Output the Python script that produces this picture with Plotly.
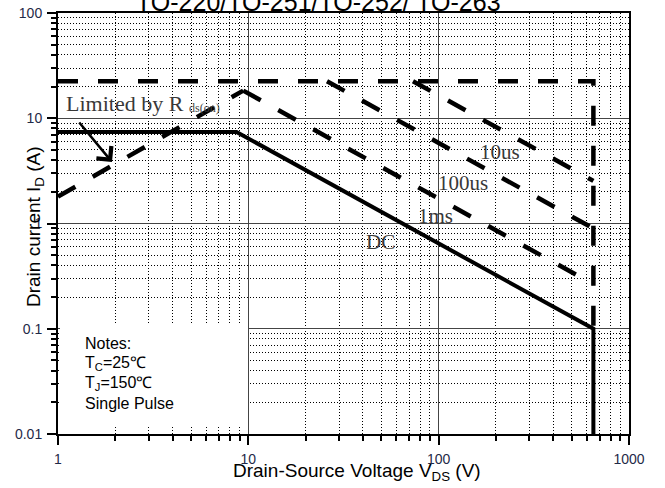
import plotly.graph_objects as go

# ---- data ----
dc_v = [1, 8.67, 650, 650]
dc_i = [7.4, 7.4, 0.1, 0.01]
limit_v = [1, 650, 650]
limit_i = [22.5, 22.5, 0.1]
rds_v = [1, 9.4]
rds_i = [1.8, 18.3]
ms1_v = [9.4, 650]
ms1_i = [18.3, 0.265]
us100_v = [25.9, 650]
us100_i = [22.5, 0.897]
us10_v = [73.3, 650]
us10_i = [22.5, 2.54]

x_tickvals = [1, 10, 100, 1000]
x_ticktext = ["1", "10", "100", "1000"]
y_tickvals = [0.01, 0.1, 1, 10, 100]
y_ticktext = ["0.01", "0.1", "1", "10", "100"]

W, H = 665, 488
OFF = 0  # body margin removed by post_script
# plot area in screenshot pixels: x 58..629, y 13..434
PX0, PX1, PY0, PY1 = 58, 629, 13, 434
PW, PH = PX1 - PX0, PY1 - PY0
ML, MT = PX0 - OFF, PY0 - OFF
MR, MB = W - ML - PW, H - MT - PH


def px(xp):
    return (xp - PX0) / PW


def py(yp):
    return (PY1 - yp) / PH


fig = go.Figure()
dash = "20px,20px"
for xs, ys in [(limit_v, limit_i), (rds_v, rds_i), (ms1_v, ms1_i),
               (us100_v, us100_i), (us10_v, us10_i)]:
    fig.add_trace(go.Scatter(x=xs, y=ys, mode="lines",
                             line=dict(color="black", width=4.5, dash=dash),
                             hoverinfo="skip", showlegend=False, cliponaxis=False))
fig.add_trace(go.Scatter(x=dc_v, y=dc_i, mode="lines",
                         line=dict(color="black", width=4),
                         hoverinfo="skip", showlegend=False))

tickfont = dict(family="Liberation Sans, Arial", size=14, color="#1f2a48")
common = dict(type="log", showline=True, linecolor="black", linewidth=2, mirror=True,
              ticks="outside", ticklen=9, tickwidth=1.5, tickcolor="black",
              showgrid=True, gridcolor="#444", gridwidth=1, zeroline=False,
              tickfont=tickfont, ticklabelstandoff=2, automargin=False,
              ticklabeloverflow="allow",
              minor=dict(dtick="D1", ticks="outside", ticklen=5, tickcolor="black",
                         showgrid=True, gridcolor="black", gridwidth=1, griddash="1px,2px"))
fig.update_xaxes(range=[0, 3], tickvals=x_tickvals, ticktext=x_ticktext, **common)
fig.update_yaxes(range=[-2, 2], tickvals=y_tickvals, ticktext=y_ticktext, **common)

# white notes box covering the grid
fig.add_shape(type="rect", xref="paper", yref="paper",
              x0=px(60), x1=px(248), y0=py(425), y1=py(324),
              fillcolor="white", line=dict(width=0), layer="above")

serif = dict(family="Liberation Serif, serif", size=21, color="#383838")
labels = [("10us", 500, 152), ("100us", 463, 183), ("1ms", 435, 216), ("DC", 380, 242)]
for t, xp, yp in labels:
    fig.add_annotation(text=t, x=px(xp), y=py(yp), xref="paper", yref="paper",
                       showarrow=False, font=serif, xanchor="center", yanchor="middle")

fig.add_annotation(text="Limited by R", x=px(64), y=py(103), xref="paper", yref="paper",
                   showarrow=False, font=dict(family="Liberation Serif, serif", size=22, color="#383838"),
                   xanchor="left", yanchor="middle")
fig.add_annotation(text="ds(on)", x=px(187), y=py(108), xref="paper", yref="paper",
                   showarrow=False, font=dict(family="Liberation Serif, serif", size=12, color="#444"),
                   xanchor="left", yanchor="middle")

# arrow
fig.add_annotation(text="", x=px(112), y=py(162), xref="paper", yref="paper",
                   ax=78 - 112, ay=121 - 162, showarrow=True, arrowhead=4,
                   arrowsize=1.5, arrowwidth=2.5, arrowcolor="black", standoff=0)

sans = dict(family="Liberation Sans, Arial", size=16, color="black")
notes = [("Notes:", 343), ("T<sub>C</sub>=25℃", 363), ("T<sub>J</sub>=150℃", 383), ("Single Pulse", 403)]
for t, yp in notes:
    fig.add_annotation(text=t, x=px(83), y=py(yp), xref="paper", yref="paper",
                       showarrow=False, font=sans, xanchor="left", yanchor="middle")

# title (cut off at the top)
fig.add_annotation(text="TO-220/TO-251/TO-252/ TO-263", x=px(318), y=1, xref="paper", yref="paper",
                   yanchor="bottom", xanchor="center", yshift=-5, showarrow=False,
                   font=dict(family="Liberation Sans, Arial", size=25, color="black"))

# axis titles
fig.add_annotation(text="Drain-Source Voltage V<sub>DS</sub> (V)", x=px(357), y=py(472),
                   xref="paper", yref="paper", showarrow=False, xanchor="center", yanchor="middle",
                   font=dict(family="Liberation Sans, Arial", size=19, color="black"))
fig.add_annotation(text="Drain current I<sub>D</sub> (A)", x=px(35), y=py(227),
                   xref="paper", yref="paper", showarrow=False, xanchor="center", yanchor="middle",
                   textangle=-90, font=dict(family="Liberation Sans, Arial", size=19, color="black"))

fig.update_layout(width=W, height=H, margin=dict(l=ML, r=MR, t=MT, b=MB, autoexpand=False),
                  plot_bgcolor="white", paper_bgcolor="white", showlegend=False)
fig.write_html("out.html", config={"displayModeBar": False},
               post_script="document.body.style.margin='0';document.body.style.overflow='hidden';")
